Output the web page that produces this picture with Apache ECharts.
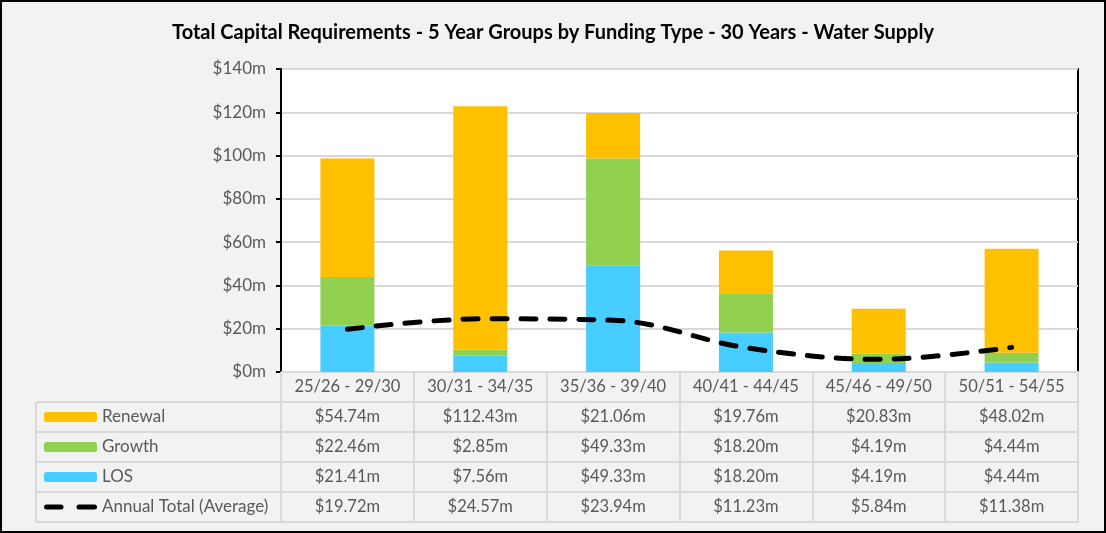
<!DOCTYPE html>
<html>
<head>
<meta charset="utf-8">
<script src="https://cdn.jsdelivr.net/npm/echarts@6/dist/echarts.min.js"></script>
<style>
html,body{margin:0;padding:0;background:#f2f2f2;}
#chart{width:1106px;height:533px;}
</style>
</head>
<body>
<div id="chart"></div>
<script>
const categories = ['25/26 - 29/30','30/31 - 34/35','35/36 - 39/40','40/41 - 44/45','45/46 - 49/50','50/51 - 54/55'];
const renewal = [54.74, 112.43, 21.06, 19.76, 20.83, 48.02];
const growth  = [22.46, 2.85, 49.33, 18.20, 4.19, 4.44];
const los     = [21.41, 7.56, 49.33, 18.20, 4.19, 4.44];
const annualAvg = [19.72, 24.57, 23.94, 11.23, 5.84, 11.38];
const yTicks = [0, 20, 40, 60, 80, 100, 120, 140];

const FONT = 'Lato';
const GREY = '#595959';
const fmt = v => '$' + v.toFixed(2) + 'm';

const dashIcon = 'image://data:image/svg+xml;utf8,' + encodeURIComponent(
  '<svg xmlns="http://www.w3.org/2000/svg" width="53" height="10" viewBox="0 0 53 10">' +
  '<line x1="2.5" y1="5" x2="17" y2="5" stroke="black" stroke-width="5" stroke-linecap="round"/>' +
  '<line x1="35" y1="5" x2="50.5" y2="5" stroke="black" stroke-width="5" stroke-linecap="round"/></svg>');

const chart = echarts.init(document.getElementById('chart'));

const tableLines = [];
[402, 432, 462, 492, 522].forEach(y => {
  tableLines.push({type:'line', shape:{x1:36, y1:y, x2:1079, y2:y}, style:{stroke:'#d9d9d9', lineWidth:2}, z:-1});
});
tableLines.push({type:'line', shape:{x1:36, y1:402, x2:36, y2:522}, style:{stroke:'#d9d9d9', lineWidth:2}, z:-1});
tableLines.push({type:'rect', shape:{x:1, y:1, width:1104, height:531}, style:{fill:'none', stroke:'#000', lineWidth:2}, z:100});

chart.setOption({
  backgroundColor: '#f2f2f2',
  animation: false,
  textStyle: {fontFamily: FONT},
  title: {
    text: 'Total Capital Requirements - 5 Year Groups by Funding Type - 30 Years - Water Supply',
    left: 'center', top: 18,
    textStyle: {fontFamily: FONT, fontSize: 20, fontWeight: 'bold', color: '#000'}
  },
  grid: {
    left: 281, right: 28, top: 69, bottom: 161,
    show: true, backgroundColor: '#fff', borderColor: '#000', borderWidth: 2
  },
  legend: {
    orient: 'vertical', left: 44, top: 402, padding: 0,
    itemWidth: 53, itemHeight: 10, itemGap: 0,
    data: ['Renewal', 'Growth', 'LOS', {name: 'Annual Total (Average)', icon: dashIcon}],
    textStyle: {fontFamily: FONT, fontSize: 17, color: GREY, lineHeight: 30, height: 30},
    selectedMode: false
  },
  xAxis: {
    type: 'category',
    data: categories,
    axisLine: {show: true, lineStyle: {color: '#d9d9d9', width: 2}},
    axisTick: {show: true, length: 150, lineStyle: {color: '#d9d9d9', width: 2}},
    axisLabel: {
      margin: 0, interval: 0,
      fontFamily: FONT, fontSize: 16.5, color: GREY, lineHeight: 30,
      formatter: (val, i) => [val, fmt(renewal[i]), fmt(growth[i]), fmt(los[i]), fmt(annualAvg[i])].join('\n')
    }
  },
  yAxis: {
    type: 'value', min: 0, max: 140, interval: 20,
    axisLine: {show: true, lineStyle: {color: '#000', width: 2}},
    axisTick: {show: true, length: 5, lineStyle: {color: '#000', width: 2}},
    axisLabel: {
      margin: 15, fontFamily: FONT, fontSize: 17, color: GREY,
      formatter: v => yTicks.includes(v) ? '$' + v + 'm' : ''
    },
    splitLine: {show: true, lineStyle: {color: '#d9d9d9', width: 2}}
  },
  series: [
    {name: 'LOS', type: 'bar', stack: 'total', data: los, barWidth: 54, itemStyle: {color: '#47CDFF'}},
    {name: 'Growth', type: 'bar', stack: 'total', data: growth, barWidth: 54, itemStyle: {color: '#92D050'}},
    {name: 'Renewal', type: 'bar', stack: 'total', data: renewal, barWidth: 54, itemStyle: {color: '#FFC000'}},
    {name: 'Annual Total (Average)', type: 'line', data: annualAvg, smooth: 0.35,
      symbol: 'none', showSymbol: false, z: 5,
      itemStyle: {color: '#000'},
      lineStyle: {color: '#000', width: 5, type: [15, 14], cap: 'round'}}
  ],
  graphic: tableLines
});
</script>
</body>
</html>
